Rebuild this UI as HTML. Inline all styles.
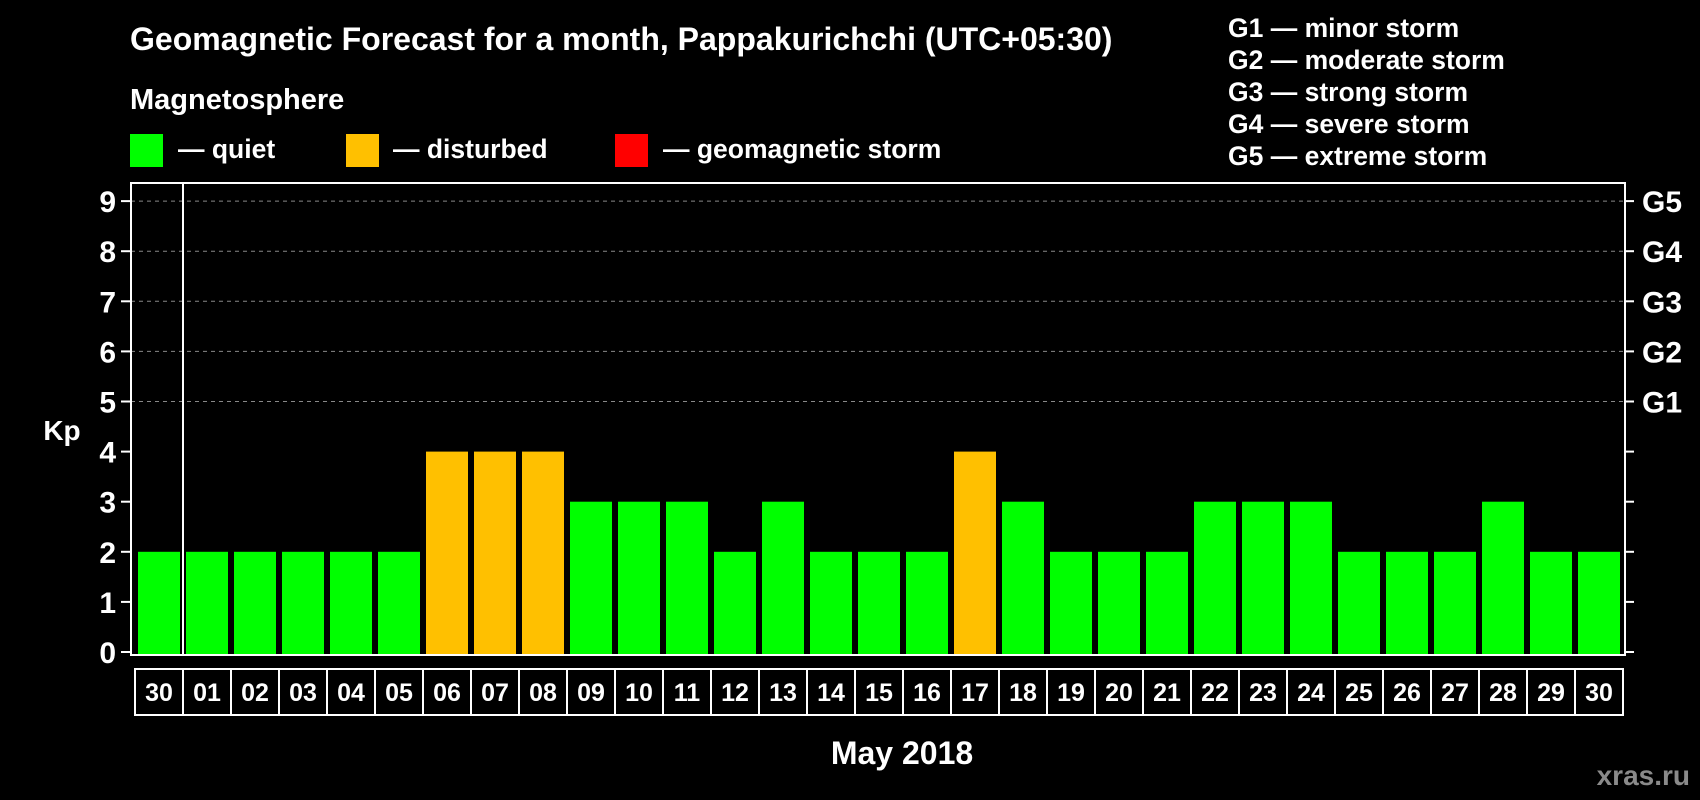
<!DOCTYPE html>
<html><head><meta charset="utf-8"><style>
html,body{margin:0;padding:0;background:#000;}
svg{display:block;font-family:"Liberation Sans",Arial,sans-serif;font-weight:bold;}
</style></head><body>
<svg id="chart" width="1700" height="800" viewBox="0 0 1700 800">
<rect x="0" y="0" width="1700" height="800" fill="#000"/>
<text x="130" y="50" fill="#fff" font-size="32">Geomagnetic Forecast for a month, Pappakurichchi (UTC+05:30)</text>
<text x="130" y="109" fill="#fff" font-size="29">Magnetosphere</text>
<g><rect x="130" y="134" width="33" height="33" fill="#00ff00"/><text x="178" y="158" fill="#fff" font-size="26.5">— quiet</text></g>
<g><rect x="346" y="134" width="33" height="33" fill="#ffc000"/><text x="393" y="158" fill="#fff" font-size="26.5">— disturbed</text></g>
<g><rect x="615" y="134" width="33" height="33" fill="#ff0000"/><text x="663" y="158" fill="#fff" font-size="26.5">— geomagnetic storm</text></g>
<g fill="#fff" font-size="26.5">
<text x="1228" y="37">G1 — minor storm</text>
<text x="1228" y="69">G2 — moderate storm</text>
<text x="1228" y="101">G3 — strong storm</text>
<text x="1228" y="133">G4 — severe storm</text>
<text x="1228" y="165">G5 — extreme storm</text>
</g>
<g id="grid"></g>
<g id="bars"></g>
<rect x="131" y="183" width="1494" height="472" fill="none" stroke="#fff" stroke-width="2"/>
<line x1="183" y1="183" x2="183" y2="655" stroke="#fff" stroke-width="2"/>
<g id="axes"></g>
<text x="62" y="440" fill="#fff" font-size="28" text-anchor="middle">Kp</text>
<text x="902" y="764" fill="#fff" font-size="32" text-anchor="middle">May 2018</text>
<text x="1690" y="785" fill="#8a8a8a" font-size="28" text-anchor="end">xras.ru</text>
</svg>
<script>
const days = ["30","01","02","03","04","05","06","07","08","09","10","11","12","13","14","15","16","17","18","19","20","21","22","23","24","25","26","27","28","29","30"];
const kp = [2,2,2,2,2,2,4,4,4,3,3,3,2,3,2,2,2,4,3,2,2,2,3,3,3,2,2,2,3,2,2];
const yTicks = [0,1,2,3,4,5,6,7,8,9];
const gLabels = ["G1","G2","G3","G4","G5"];
const gLevels = [5,6,7,8,9];
const NS="http://www.w3.org/2000/svg";
const x0=135, bw=48, y0=652, unit=50.1, frameBottom=655;
function xs(i){return x0+i*bw;}
function ys(v){return y0-v*unit;}
function mk(t,a){const e=document.createElementNS(NS,t);for(const k in a)e.setAttribute(k,a[k]);return e;}
const grid=document.getElementById('grid'),bars=document.getElementById('bars'),axes=document.getElementById('axes');
gLevels.forEach((v,i)=>{
 const l=mk('line',{x1:131,x2:1625,y1:ys(v),y2:ys(v),stroke:'#888','stroke-dasharray':'4,4','stroke-width':1});
 
 
 grid.appendChild(l);
 const t=mk('text',{x:1642,y:ys(v)+11,fill:'#fff','font-size':30});
 t.textContent=gLabels[i];
 
 
 axes.appendChild(t);
});
yTicks.forEach(v=>{
 const l=mk('line',{x1:121,x2:131,y1:ys(v),y2:ys(v),stroke:'#fff','stroke-width':2});
 
 
 axes.appendChild(l);
 const r=mk('line',{x1:1625,x2:1634,y1:ys(v),y2:ys(v),stroke:'#fff','stroke-width':2});
 
 
 axes.appendChild(r);
 const t=mk('text',{x:116,y:ys(v)+11,fill:'#fff','font-size':30,'text-anchor':'end'});
 t.textContent=v;
 
 
 axes.appendChild(t);
});
kp.forEach((v,i)=>{
 const b=mk('rect',{x:xs(i)+3,y:ys(v),width:bw-6,height:frameBottom-ys(v)-1,fill:v>=5?'#ff0000':(v>=4?'#ffc000':'#00ff00')});
 
 
 bars.appendChild(b);
 const box=mk('rect',{x:xs(i),y:669,width:bw,height:46,fill:'none',stroke:'#fff','stroke-width':2});
 
 
 axes.appendChild(box);
 const t=mk('text',{x:xs(i)+bw/2,y:701,fill:'#fff','font-size':25,'text-anchor':'middle'});
 t.textContent=days[i];
 
 
 axes.appendChild(t);
});
</script>
</body></html>
